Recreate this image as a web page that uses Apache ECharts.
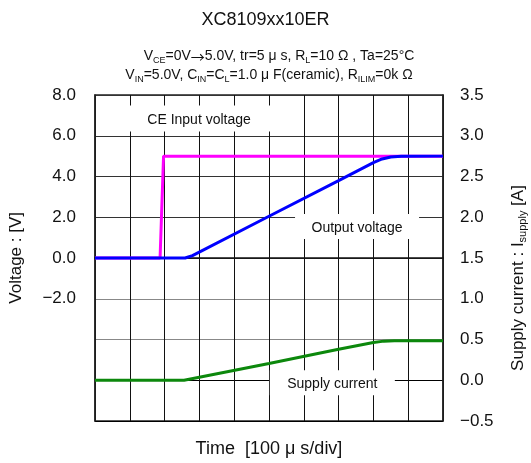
<!DOCTYPE html>
<html>
<head>
<meta charset="utf-8">
<script src="https://cdn.jsdelivr.net/npm/echarts@6/dist/echarts.min.js"></script>
<style>html,body{margin:0;padding:0;background:#fff}#c{width:531px;height:463px}</style>
</head>
<body>
<div id="c"></div>
<script>
// time in divisions (100 us/div)
var ceTime   = [0, 1.87, 1.97, 10];
var ceVolt   = [0, 0, 5.0, 5.0];
var outTime  = [0, 2.59, 2.8, 5.0, 7.0, 8.0, 8.25, 8.5, 8.8, 10];
var outVolt  = [0, 0, 0.12, 2.05, 3.8, 4.68, 4.86, 4.96, 4.99, 5.0];
var supTime  = [0, 2.56, 5.0, 7.0, 8.0, 8.3, 8.6, 10];
var supCurr  = [0, 0, 0.205, 0.38, 0.463, 0.48, 0.485, 0.485];
var leftTicks  = {min: -8, max: 8, interval: 2, minLabel: -2};
var rightTicks = {min: -0.5, max: 3.5, interval: 0.5};
var FONT = 'Liberation Sans';
var CJK = 'Noto Sans CJK JP';

function pairs(xs, ys){ return xs.map(function(x,i){ return [x, ys[i]]; }); }
function fmt(v){ return (v < 0 ? '\u2212' : '') + Math.abs(v).toFixed(1); }

var chart = echarts.init(document.getElementById('c'), null, {renderer:'canvas'});
var gridColors = ['#000','#000','#888','#888','#333','#333','#333','#333','#333'];

var subRich = {
  n: {fontSize: 14, fontFamily: FONT, fontWeight: 'normal', color: '#111', lineHeight: 17},
  w: {fontSize: 14, fontFamily: CJK, fontWeight: 'normal', color: '#111', lineHeight: 17},
  s: {fontSize: 9, fontFamily: FONT, fontWeight: 'normal', color: '#111', lineHeight: 10, verticalAlign: 'bottom'}
};

chart.setOption({
  animation: false,
  backgroundColor: '#fff',
  title: [
    {text: 'XC8109xx10ER', left: 'center', top: 6,
     textStyle: {fontSize: 18, fontWeight: 'normal', fontFamily: FONT, color: '#111'}},
    {text: '{n|V}{s|CE}{n|=0V}{w|\u2192}{n|5.0V, tr=5 \u03bc s, R}{s|L}{n|=10 \u03a9 , Ta=25\u00b0C}',
     left: 274, textAlign: 'center', top: 43, textStyle: {fontWeight: 'normal', rich: subRich}},
    {text: '{n|V}{s|IN}{n|=5.0V, C}{s|IN}{n|=C}{s|L}{n|=1.0 \u03bc F(ceramic), R}{s|ILIM}{n|=0k \u03a9}',
     left: 264, textAlign: 'center', top: 62, textStyle: {fontWeight: 'normal', rich: subRich}}
  ],
  grid: {left: 95, right: 88, top: 95, bottom: 40, show: true, borderColor: '#222', borderWidth: 1.5, backgroundColor: 'transparent'},
  xAxis: {
    type: 'value', min: 0, max: 10, interval: 1,
    name: 'Time  [100 \u03bc s/div]', nameLocation: 'middle', nameGap: 19,
    nameTextStyle: {fontSize: 18, fontFamily: FONT, color: '#111'},
    axisLabel: {show: false}, axisTick: {show: false},
    axisLine: {show: true, lineStyle: {color: '#111', width: 1.5}},
    splitLine: {show: true, lineStyle: {color: '#111', width: 1}}
  },
  yAxis: [
    {type: 'value', min: leftTicks.min, max: leftTicks.max, interval: leftTicks.interval, position: 'left',
     axisLabel: {fontSize: 17, fontFamily: FONT, color: '#111', margin: 19,
       formatter: function(v){ return v >= leftTicks.minLabel ? fmt(v) : ''; }},
     axisTick: {show: false}, axisLine: {show: true, lineStyle: {color: '#222', width: 1.5}},
     splitLine: {show: true, lineStyle: {color: gridColors, width: 1}}},
    {type: 'value', min: rightTicks.min, max: rightTicks.max, interval: rightTicks.interval, position: 'right',
     axisLabel: {fontSize: 17, fontFamily: FONT, color: '#111', margin: 17, formatter: fmt},
     axisTick: {show: false}, axisLine: {show: true, lineStyle: {color: '#222', width: 1.5}},
     splitLine: {show: false}}
  ],
  graphic: [
    {type: 'text', left: 8, top: 212, rotation: Math.PI/2,
     style: {text: 'Voltage : [V]', fontSize: 17, fontFamily: FONT, fill: '#111'}},
    {type: 'text', x: 528, y: 278, rotation: Math.PI/2,
     style: {text: '{n|Supply current : I}{s|supply}{n| [A]}', align: 'center', verticalAlign: 'bottom',
       rich: {n: {fontSize: 17, fontFamily: FONT, fill: '#111', lineHeight: 20},
              s: {fontSize: 11, fontFamily: FONT, fill: '#111', lineHeight: 11, verticalAlign: 'bottom'}}}}
  ],
  series: [
    {name: 'CE Input voltage', type: 'line', yAxisIndex: 0, showSymbol: false, z: 3,
     data: pairs(ceTime, ceVolt), lineStyle: {color: '#ff00ff', width: 3}, itemStyle: {color: '#ff00ff'},
     markPoint: {silent: true, data: [{coord: [2.99, 6.85], symbol: 'rect', symbolSize: [154, 26],
       itemStyle: {color: '#fff'},
       label: {show: true, position: 'inside', offset: [0, 2], formatter: 'CE Input voltage', fontSize: 14, fontFamily: FONT, color: '#111'}}]}},
    {name: 'Output voltage', type: 'line', yAxisIndex: 0, showSymbol: false, z: 4,
     data: pairs(outTime, outVolt), lineStyle: {color: '#0000ff', width: 3}, itemStyle: {color: '#0000ff'},
     markPoint: {silent: true, data: [{coord: [7.53, 1.54], symbol: 'rect', symbolSize: [124, 25],
       itemStyle: {color: '#fff'},
       label: {show: true, position: 'inside', offset: [0, 2], formatter: 'Output voltage', fontSize: 14, fontFamily: FONT, color: '#111'}}]}},
    {name: 'Supply current', type: 'line', yAxisIndex: 1, showSymbol: false, z: 3,
     data: pairs(supTime, supCurr), lineStyle: {color: '#0c880c', width: 3}, itemStyle: {color: '#0c880c'},
     markPoint: {silent: true, data: [{coord: [6.82, -0.03], symbol: 'rect', symbolSize: [125, 25],
       itemStyle: {color: '#fff'},
       label: {show: true, position: 'inside', offset: [0, 1], formatter: 'Supply current', fontSize: 14, fontFamily: FONT, color: '#111'}}]}}
  ]
});
</script>
</body>
</html>
